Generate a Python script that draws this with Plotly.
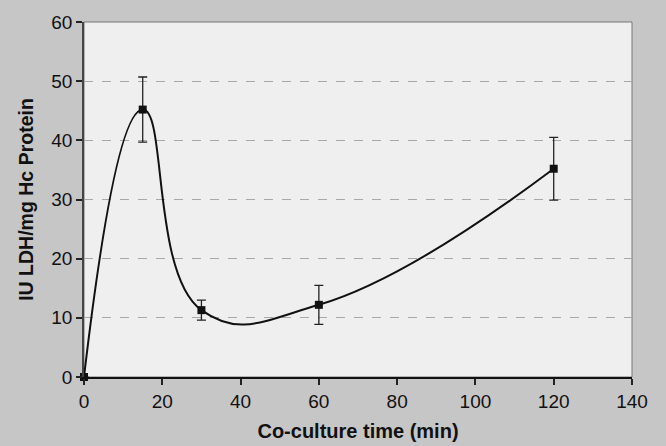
import plotly.graph_objects as go

time_min = [0, 15, 30, 60, 120]
ldh = [0, 45.2, 11.3, 12.2, 35.2]
ldh_err = [0, 5.5, 1.7, 3.3, 5.3]

x_ticks = [0, 20, 40, 60, 80, 100, 120, 140]
y_ticks = [0, 10, 20, 30, 40, 50, 60]

fig = go.Figure()
fig.add_trace(go.Scatter(
    x=time_min, y=ldh,
    mode="lines+markers",
    line=dict(color="#111111", width=2, shape="spline", smoothing=1.3),
    marker=dict(symbol="square", size=8, color="#111111"),
    error_y=dict(type="data", array=ldh_err, visible=True, color="#222222", thickness=1.3, width=4.5),
    showlegend=False,
    cliponaxis=False,
    hoverinfo="skip",
))

fig.add_shape(type="rect", xref="paper", yref="paper", x0=0, y0=0, x1=1, y1=1,
              line=dict(color="#777777", width=1), layer="below")

font = "Liberation Sans, Arial, sans-serif"
fig.update_layout(
    width=666, height=446,
    margin=dict(l=84, r=34, t=22, b=69),
    paper_bgcolor="#c6c6c6",
    plot_bgcolor="#efefef",
    font=dict(family=font, size=19, color="#111111"),
    xaxis=dict(
        range=[0, 140], tickvals=x_ticks, ticks="outside", ticklen=6, tickwidth=1.5,
        tickcolor="#222222", showgrid=False, zeroline=False, automargin=False,
        showline=True, linecolor="#111111", linewidth=2,
        title=dict(text="<b>Co-culture time (min)</b>", font=dict(size=20, family=font), standoff=13),
        tickfont=dict(size=19),
    ),
    yaxis=dict(
        range=[0, 60], tickvals=y_ticks, ticks="outside", ticklen=6, tickwidth=1.5,
        tickcolor="#222222", showgrid=True, gridcolor="#a8a8a8", griddash="dash", gridwidth=1,
        zeroline=False, showline=True, linecolor="#444444", linewidth=1.5, automargin=False,
        title=dict(text="<b>IU LDH/mg Hc Protein</b>", font=dict(size=19.5, family=font), standoff=12),
        tickfont=dict(size=19),
    ),
)

fig.write_html(
    "out.html",
    config={"displayModeBar": False},
    post_script="document.body.style.margin='0px';document.body.style.background='#c6c6c6';",
)
